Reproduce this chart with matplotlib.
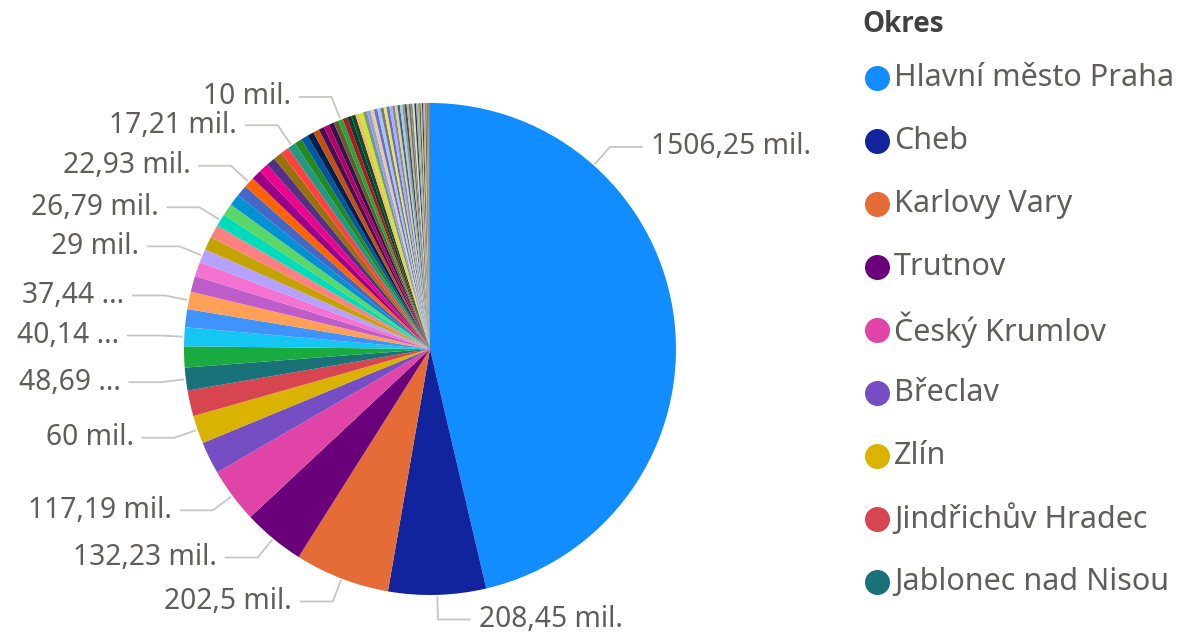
import numpy as np
import matplotlib.pyplot as plt

plt.rcParams['font.family'] = ['Noto Sans', 'DejaVu Sans']

# values in millions, sorted descending (77 districts)
values = [1506.25, 208.45, 202.5, 132.23, 117.19, 69, 60, 55, 48.69,
          45, 40.14, 38.5, 37.44, 34, 31, 29, 28.5, 27.5, 26.79, 26,
          25, 24, 22.93, 21.5, 20.5, 19.5, 19, 18, 17.21, 16,
          15, 14, 13, 12, 11.5, 11, 10.5, 10,
          9.6, 9.3, 9, 8.7, 8.4, 8.1, 7.8, 7.5, 7.2, 6.9,
          6.6, 6.3, 6.1, 5.9, 5.7, 5.5, 5.2, 5, 4.8, 4.6,
          4.4, 4.2, 4, 3.8, 3.6, 3.4, 3.2, 3, 2.8, 2.6,
          2.4, 2.2, 2, 1.8, 1.6, 1.4, 1.2, 1, 0.8]

legend_names = ["Hlavní město Praha", "Cheb", "Karlovy Vary", "Trutnov",
                "Český Krumlov", "Břeclav", "Zlín", "Jindřichův Hradec",
                "Jablonec nad Nisou"]

# which slices get a data label, and the text shown
label_idx = [0, 1, 2, 3, 4, 6, 8, 10, 12, 15, 18, 22, 28, 37]
label_txt = ["1506,25 mil.", "208,45 mil.", "202,5 mil.", "132,23 mil.",
             "117,19 mil.", "60 mil.", "48,69 ...", "40,14 ...", "37,44 ...",
             "29 mil.", "26,79 mil.", "22,93 mil.", "17,21 mil.", "10 mil."]

base = ["#118DFF", "#12239E", "#E66C37", "#6B007B", "#E044A7", "#744EC2",
        "#D9B300", "#D64550", "#197278", "#1AAB40", "#15C6F4", "#4092FF",
        "#FFA058", "#BE5DC9", "#F472D0", "#B5A1FF", "#C4A200", "#FF8080",
        "#00DBBC", "#5BD667", "#0091D5", "#4668C5", "#FF6300", "#99008A",
        "#EC008C", "#533285", "#99700A", "#FF4141", "#1F9A85", "#25891C",
        "#0057A2", "#002050", "#C94F0F", "#450F54", "#B60064", "#34124F",
        "#6A5A29", "#1AAB40", "#BA141A", "#0C3D37", "#0B511F",
        "#FFB36B", "#B8F02A", "#8C8C8C", "#7FA8F0", "#F5C98A", "#6C6FD6",
        "#9ECBF5", "#7A7A7A", "#F2E05C", "#4A7BD0", "#C8A2E8", "#6E8FB5",
        "#E8D36A", "#3F5FA8", "#A3C9E8", "#9C9C6A", "#2E4A8C", "#D9B85C",
        "#5C6FA3", "#8A8A8A", "#F0E08A", "#1C3A70", "#8FA8C8", "#C9B24A",
        "#4D5D8A", "#E0C070", "#243B6B", "#9AA7BD", "#D4B040", "#33466E",
        "#A88F3A", "#5A5A7A", "#C0A050", "#283858", "#7C6A3A", "#404060"]
colors = base[:len(values)]

fig = plt.figure(figsize=(11.86, 6.4), dpi=100)
ax = fig.add_axes([0, 0, 1, 1])

wedges, _ = ax.pie(values, colors=colors, startangle=90, counterclock=False,
                   radius=1.0, wedgeprops=dict(linewidth=0))
# 246 px per unit, pie centre at pixel (430, 349)
ax.set_aspect('auto')
ax.set_xlim(-430 / 246, (1186 - 430) / 246)
ax.set_ylim(-(640 - 349) / 246, 349 / 246)
ax.axis('off')

txt_color = "#605E5C"
line_color = "#C8C6C4"
for i, t in zip(label_idx, label_txt):
    w = wedges[i]
    if i == 0:
        # big slice: anchor the leader near its upper part
        ang = w.theta2 - 0.25 * (w.theta2 - w.theta1)
    else:
        ang = 0.5 * (w.theta1 + w.theta2)
    a = np.deg2rad(ang)
    p0 = np.array([np.cos(a), np.sin(a)]) * 1.01
    p1 = np.array([np.cos(a), np.sin(a)]) * 1.1
    side = 1 if np.cos(a) >= -0.05 else -1
    p2 = p1 + np.array([side * 0.13, 0])
    ax.plot([p0[0], p1[0], p2[0]], [p0[1], p1[1], p2[1]], color=line_color, lw=1.3)
    ax.text(p2[0] + side * 0.035, p2[1], t, ha='left' if side > 0 else 'right',
            va='center', fontsize=20.3, color=txt_color)

# legend
fig.text(862 / 1186, 1 - 25 / 640, "Okres", fontsize=20, fontweight='bold',
         family=['Open Sans', 'DejaVu Sans'], color="#404040", ha='left', va='center')
for k, name in enumerate(legend_names):
    yy = 1 - (78 + 63 * k) / 640
    ax.plot([(877 - 430) / 246], [(349 - 78 - 63 * k) / 246], 'o',
            color=colors[k], markersize=17, clip_on=False)
    fig.text(894 / 1186, yy, name, fontsize=22, color=txt_color,
             ha='left', va='center')

fig.savefig("out.png", dpi=100)
